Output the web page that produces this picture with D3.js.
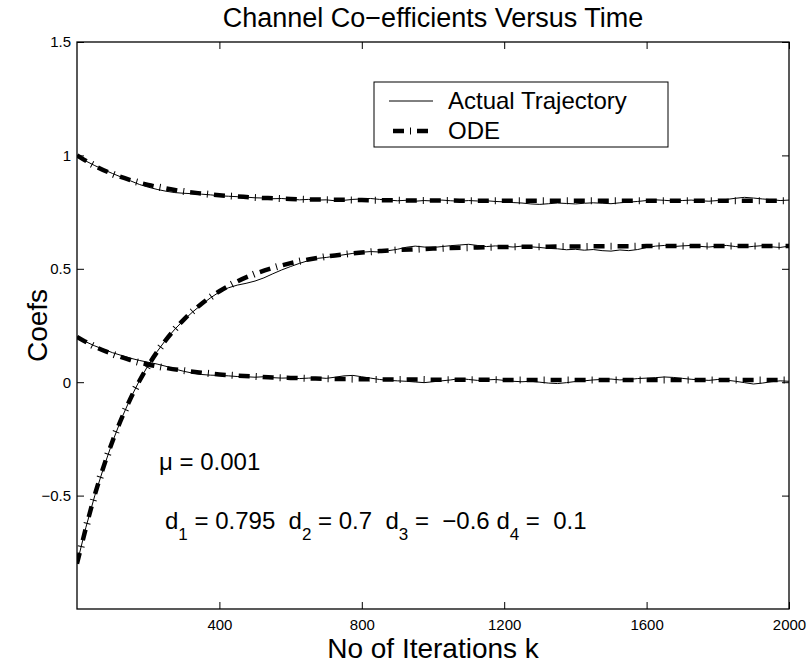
<!DOCTYPE html>
<html>
<head>
<meta charset="utf-8">
<script src="https://cdn.jsdelivr.net/npm/d3@7/dist/d3.min.js"></script>
<style>
	body { margin: 0; background: #fff; }
	text { font-family: "Liberation Sans", Arial, Helvetica, sans-serif; fill: #000; }
</style>
</head>
<body>
<div id="chart"></div>
<script>
// ODE solution, sampled every 50 iterations
var odeIters = [0, 50, 100, 150, 200, 250, 300, 350, 400, 450, 500, 550, 600, 650, 700, 750, 800, 850, 900, 950,
	1000, 1050, 1100, 1150, 1200, 1250, 1300, 1350, 1400, 1450, 1500, 1550, 1600, 1650, 1700, 1750, 1800, 1850, 1900, 1950, 2000];
var odeTop = [1.000, 0.954, 0.918, 0.891, 0.870, 0.854, 0.841, 0.832, 0.824, 0.819, 0.814, 0.811, 0.808, 0.806, 0.805, 0.804, 0.803, 0.802, 0.802, 0.801,
	0.801, 0.801, 0.800, 0.800, 0.800, 0.800, 0.800, 0.800, 0.800, 0.800, 0.800, 0.800, 0.800, 0.800, 0.800, 0.800, 0.800, 0.800, 0.800, 0.800, 0.800];
var odeMid = [-0.800, -0.497, -0.259, -0.073, 0.073, 0.187, 0.276, 0.346, 0.401, 0.444, 0.478, 0.504, 0.525, 0.541, 0.554, 0.564, 0.572, 0.578, 0.583, 0.586,
	0.589, 0.592, 0.593, 0.595, 0.596, 0.597, 0.597, 0.598, 0.598, 0.599, 0.599, 0.599, 0.600, 0.600, 0.600, 0.600, 0.600, 0.600, 0.600, 0.600, 0.600];
var odeBot = [0.200, 0.157, 0.124, 0.098, 0.078, 0.063, 0.051, 0.042, 0.034, 0.029, 0.025, 0.021, 0.019, 0.017, 0.015, 0.014, 0.013, 0.012, 0.012, 0.012,
	0.011, 0.011, 0.011, 0.011, 0.010, 0.010, 0.010, 0.010, 0.010, 0.010, 0.010, 0.010, 0.010, 0.010, 0.010, 0.010, 0.010, 0.010, 0.010, 0.010, 0.010];

// actual (noisy) trajectories, sampled every 25 iterations
var actIters = [0, 25, 50, 75, 100, 125, 150, 175, 200, 225, 250, 275, 300, 325, 350, 375, 400, 425, 450, 475,
	500, 525, 550, 575, 600, 625, 650, 675, 700, 725, 750, 775, 800, 825, 850, 875, 900, 925, 950, 975,
	1000, 1025, 1050, 1075, 1100, 1125, 1150, 1175, 1200, 1225, 1250, 1275, 1300, 1325, 1350, 1375, 1400, 1425, 1450, 1475,
	1500, 1525, 1550, 1575, 1600, 1625, 1650, 1675, 1700, 1725, 1750, 1775, 1800, 1825, 1850, 1875, 1900, 1925, 1950, 1975, 2000];
var actTop = [1.000, 0.975, 0.955, 0.937, 0.920, 0.904, 0.888, 0.872, 0.860, 0.850, 0.842, 0.836, 0.833, 0.831, 0.829, 0.826, 0.822, 0.820, 0.818, 0.816,
	0.813, 0.812, 0.809, 0.810, 0.807, 0.804, 0.806, 0.803, 0.804, 0.800, 0.802, 0.806, 0.808, 0.810, 0.806, 0.803, 0.800, 0.802, 0.798, 0.801,
	0.799, 0.803, 0.800, 0.798, 0.801, 0.799, 0.800, 0.797, 0.795, 0.792, 0.790, 0.786, 0.784, 0.787, 0.790, 0.788, 0.786, 0.789, 0.791, 0.789,
	0.787, 0.791, 0.794, 0.797, 0.801, 0.804, 0.802, 0.799, 0.801, 0.803, 0.800, 0.798, 0.801, 0.806, 0.811, 0.815, 0.812, 0.808, 0.805, 0.801, 0.803];
var actMid = [-0.800, -0.640, -0.500, -0.376, -0.262, -0.160, -0.072, 0.006, 0.075, 0.135, 0.188, 0.234, 0.274, 0.310, 0.342, 0.372, 0.398, 0.416, 0.428, 0.436,
	0.446, 0.460, 0.478, 0.495, 0.510, 0.524, 0.536, 0.546, 0.550, 0.556, 0.562, 0.568, 0.573, 0.576, 0.574, 0.580, 0.586, 0.595, 0.600, 0.596,
	0.594, 0.598, 0.602, 0.605, 0.608, 0.603, 0.598, 0.601, 0.599, 0.596, 0.600, 0.597, 0.594, 0.590, 0.588, 0.584, 0.586, 0.582, 0.585, 0.580,
	0.578, 0.583, 0.580, 0.585, 0.594, 0.600, 0.603, 0.598, 0.601, 0.603, 0.599, 0.596, 0.600, 0.603, 0.598, 0.595, 0.599, 0.602, 0.597, 0.594, 0.600];
var actBot = [0.200, 0.178, 0.160, 0.145, 0.130, 0.118, 0.106, 0.096, 0.088, 0.080, 0.070, 0.058, 0.048, 0.040, 0.034, 0.031, 0.030, 0.028, 0.025, 0.024,
	0.022, 0.024, 0.020, 0.018, 0.019, 0.016, 0.018, 0.020, 0.017, 0.022, 0.028, 0.030, 0.024, 0.018, 0.012, 0.008, 0.006, 0.004, 0.001, -0.002,
	0.002, 0.006, 0.010, 0.016, 0.012, 0.008, 0.010, 0.012, 0.008, 0.004, 0.002, 0.004, 0.000, -0.004, -0.006, -0.002, 0.003, 0.006, 0.010, 0.012,
	0.014, 0.010, 0.012, 0.016, 0.018, 0.020, 0.023, 0.021, 0.017, 0.013, 0.010, 0.008, 0.012, 0.009, 0.004, -0.002, -0.008, -0.004, 0.002, 0.006, 0.004];

var xTicks = [400, 800, 1200, 1600, 2000];
var yTicks = [-0.5, 0, 0.5, 1, 1.5];
var legendLabels = ["Actual Trajectory", "ODE"];

var W = 807, H = 666;
var margin = {left: 77, top: 42, right: 18, bottom: 57};
var w = W - margin.left - margin.right, h = H - margin.top - margin.bottom;

var svg = d3.select("#chart").append("svg")
	.attr("width", W).attr("height", H);

var x = d3.scaleLinear().domain([0, 2000]).range([0, w]);
var y = d3.scaleLinear().domain([-1, 1.5]).range([h, 0]);

var g = svg.append("g").attr("transform", "translate(" + margin.left + "," + margin.top + ")");

g.append("clipPath").attr("id", "clip")
	.append("rect").attr("width", w).attr("height", h);

// axes, ticks pointing inwards on all four sides
function styleAxis(sel) {
	sel.select(".domain").remove();
	sel.selectAll("line").attr("stroke", "#000").attr("stroke-width", 1);
	sel.selectAll("text").style("font-size", "15px").attr("font-family", null);
}
g.append("g").attr("transform", "translate(0," + h + ")")
	.call(d3.axisBottom(x).tickValues(xTicks).tickSize(-7).tickPadding(10).tickFormat(d3.format("d")))
	.call(styleAxis);
g.append("g")
	.call(d3.axisTop(x).tickValues(xTicks).tickSize(-7).tickFormat(""))
	.call(styleAxis);
g.append("g")
	.call(d3.axisLeft(y).tickValues(yTicks).tickSize(-7).tickPadding(6).tickFormat(function(d) {
		return d3.format("")(d).replace("-", "\u2212");
	}))
	.call(styleAxis);
g.append("g").attr("transform", "translate(" + w + ",0)")
	.call(d3.axisRight(y).tickValues(yTicks).tickSize(-7).tickFormat(""))
	.call(styleAxis);

g.append("rect")
	.attr("width", w).attr("height", h)
	.attr("fill", "none").attr("stroke", "#000").attr("stroke-width", 1.3);

var plot = g.append("g").attr("clip-path", "url(#clip)");

var odeLine = d3.line()
	.x(function(d, i) { return x(odeIters[i]); })
	.y(function(d) { return y(d); })
	.curve(d3.curveMonotoneX);
var actLine = d3.line()
	.x(function(d, i) { return x(actIters[i]); })
	.y(function(d) { return y(d); });

// dash-dot: thick dashes plus thin perpendicular dots
function drawDashDot(sel, pathFn, offset) {
	sel.append("path").attr("d", pathFn)
		.attr("fill", "none").attr("stroke", "#000")
		.attr("stroke-width", 4.5).attr("stroke-dasharray", "11 13")
		.attr("stroke-dashoffset", offset);
	sel.append("path").attr("d", pathFn)
		.attr("fill", "none").attr("stroke", "#000")
		.attr("stroke-width", 7).attr("stroke-dasharray", "1 23")
		.attr("stroke-dashoffset", offset - 17);
}

[actTop, actMid, actBot].forEach(function(series) {
	plot.append("path").datum(series)
		.attr("d", actLine)
		.attr("fill", "none").attr("stroke", "#000").attr("stroke-width", 1);
});
[odeTop, odeMid, odeBot].forEach(function(series) {
	drawDashDot(plot.append("g").datum(series), odeLine, 0);
});

// legend
var legend = svg.append("g").attr("transform", "translate(374,82)");
legend.append("rect")
	.attr("width", 294).attr("height", 65)
	.attr("fill", "#fff").attr("stroke", "#000").attr("stroke-width", 1);
legend.append("line")
	.attr("x1", 15).attr("x2", 59).attr("y1", 19).attr("y2", 19)
	.attr("stroke", "#000").attr("stroke-width", 1);
var odeSample = legend.append("g").datum([[15, 49], [59, 49]]);
drawDashDot(odeSample, d3.line(), -4);
legend.selectAll("text.lab").data(legendLabels).enter().append("text")
	.attr("class", "lab")
	.attr("x", 74).attr("y", function(d, i) { return 27 + i * 30; })
	.style("font-size", "24px")
	.text(function(d) { return d; });

// title & axis labels
svg.append("text")
	.attr("x", margin.left + w / 2).attr("y", 27)
	.attr("text-anchor", "middle").style("font-size", "27px")
	.text("Channel Co\u2212efficients Versus Time");
svg.append("text")
	.attr("x", margin.left + w / 2).attr("y", 658)
	.attr("text-anchor", "middle").style("font-size", "28px")
	.text("No of Iterations k");
svg.append("text")
	.attr("transform", "translate(47," + (margin.top + h / 2) + ") rotate(-90)")
	.attr("text-anchor", "middle").style("font-size", "28px")
	.text("Coefs");

// annotations
svg.append("text")
	.attr("x", 159).attr("y", 470).style("font-size", "24px")
	.text("\u03bc = 0.001");

var dParts = [["d", "1", " = 0.795  "], ["d", "2", " = 0.7  "], ["d", "3", " =  \u22120.6 "], ["d", "4", " =  0.1"]];
var dText = svg.append("text")
	.attr("x", 165).attr("y", 529).style("font-size", "24px")
	.style("white-space", "pre");
dParts.forEach(function(p) {
	dText.append("tspan").text(p[0]);
	dText.append("tspan").attr("dy", 11).style("font-size", "17px").text(p[1]);
	dText.append("tspan").attr("dy", -11).text(p[2]);
});
</script>
</body>
</html>
